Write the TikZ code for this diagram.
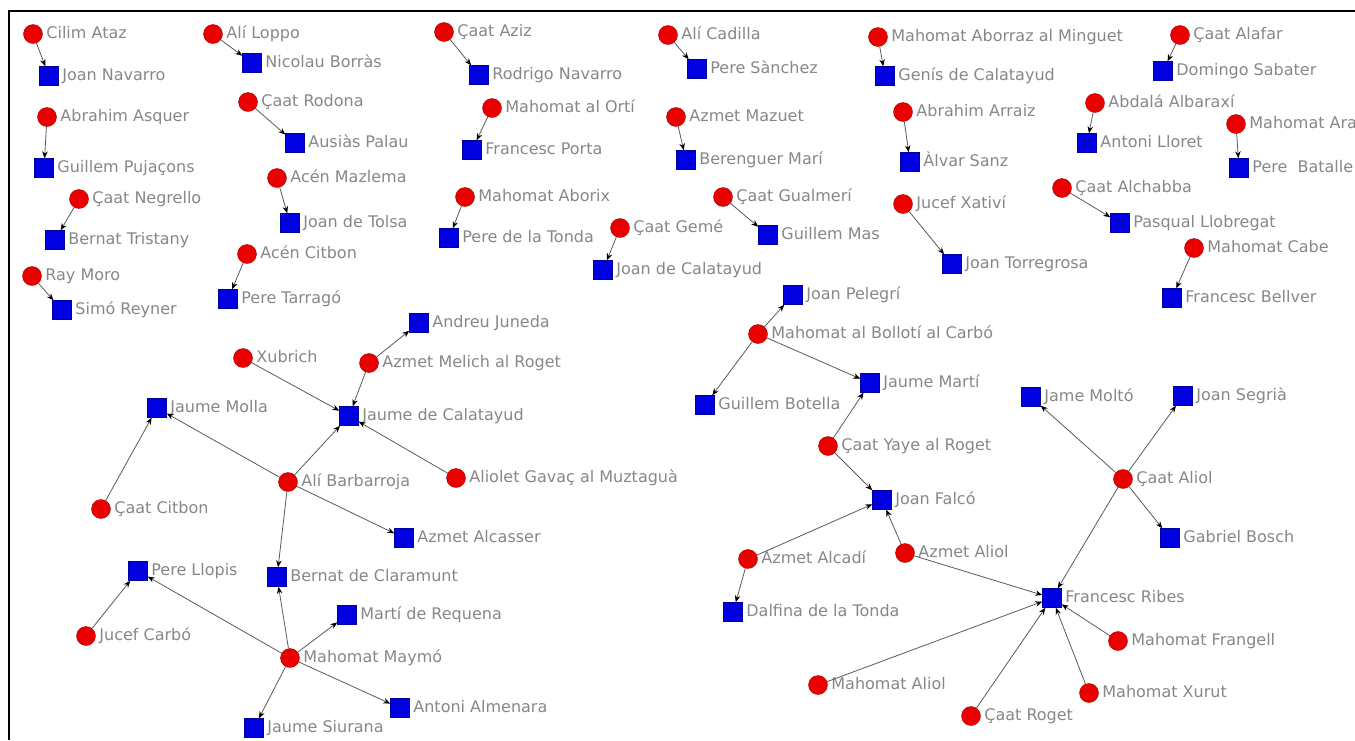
\documentclass[tikz,border=0pt]{standalone}
\usepackage{fontspec}
\setmainfont{DejaVu Sans}
\usetikzlibrary{arrows.meta}

\definecolor{namegray}{RGB}{135,135,135}
\definecolor{dotred}{RGB}{235,0,0}
\definecolor{boxblue}{RGB}{0,0,225}
\definecolor{linkgray}{RGB}{90,90,90}

\begin{document}
\begin{tikzpicture}[x=1pt,y=-1pt]
\useasboundingbox (0,0) rectangle (1355,740);
\clip (0,0) rectangle (1355,740);
\draw[line width=2pt] (8.5,740) -- (8.5,10.5) -- (1355,10.5);

\begin{scope}[
    dot/.style={circle,draw=dotred!70!black,fill=dotred,inner sep=0pt,minimum size=19pt},
    box/.style={rectangle,draw=boxblue!70!black,fill=boxblue,inner sep=0pt,minimum size=19pt},
    label distance=2.5pt,
    every label/.append style={text=namegray,font=\fontsize{16}{18}\selectfont,
        inner sep=1pt,text height=12pt,text depth=3.5pt}]
    % pairs, top rows
    \node (1) at (33, 34) [dot,label=right:Cilim Ataz] {};
    \node (2) at (49, 76) [box,label=right:Joan Navarro] {};
    \node (3) at (47, 117) [dot,label=right:Abrahim Asquer] {};
    \node (4) at (44, 168) [box,label=right:Guillem Pujaçons] {};
    \node (5) at (79, 199) [dot,label=right:Çaat Negrello] {};
    \node (6) at (55, 240) [box,label=right:Bernat Tristany] {};
    \node (7) at (32, 276) [dot,label=right:Ray Moro] {};
    \node (8) at (62, 310) [box,label=right:Simó Reyner] {};

    \node (9) at (213, 34) [dot,label=right:Alí Loppo] {};
    \node (10) at (252, 63) [box,label=right:Nicolau Borràs] {};
    \node (11) at (248, 102) [dot,label=right:Çaat Rodona] {};
    \node (12) at (295, 143) [box,label=right:Ausiàs Palau] {};
    \node (13) at (277, 178) [dot,label=right:Acén Mazlema] {};
    \node (14) at (290, 223) [box,label=right:Joan de Tolsa] {};
    \node (15) at (247, 254) [dot,label=right:Acén Citbon] {};
    \node (16) at (228, 299) [box,label=right:Pere Tarragó] {};

    \node (17) at (444, 32) [dot,label=right:Çaat Aziz] {};
    \node (18) at (479, 75) [box,label=right:Rodrigo Navarro] {};
    \node (19) at (492, 108) [dot,label=right:Mahomat al Ortí] {};
    \node (20) at (472, 150) [box,label=right:Francesc Porta] {};
    \node (21) at (465, 197) [dot,label=right:Mahomat Aborix] {};
    \node (22) at (449, 238) [box,label=right:Pere de la Tonda] {};
    \node (23) at (620, 228) [dot,label=right:Çaat Gemé] {};
    \node (24) at (603, 270) [box,label=right:Joan de Calatayud] {};

    \node (25) at (668, 35) [dot,label=right:Alí Cadilla] {};
    \node (26) at (697, 69) [box,label=right:Pere Sànchez] {};
    \node (27) at (676, 117) [dot,label=right:Azmet Mazuet] {};
    \node (28) at (686, 160) [box,label=right:Berenguer Marí] {};
    \node (29) at (723, 197) [dot,label=right:Çaat Gualmerí] {};
    \node (30) at (768, 235) [box,label=right:Guillem Mas] {};

    \node (31) at (878, 37) [dot,label=right:Mahomat Aborraz al Minguet] {};
    \node (32) at (885, 76) [box,label=right:Genís de Calatayud] {};
    \node (33) at (903, 112) [dot,label=right:Abrahim Arraiz] {};
    \node (34) at (910, 162) [box,label=right:Àlvar Sanz] {};
    \node (35) at (903, 204) [dot,label=right:Jucef Xativí] {};
    \node (36) at (952, 264) [box,label=right:Joan Torregrosa] {};

    \node (37) at (1180, 35) [dot,label=right:Çaat Alafar] {};
    \node (38) at (1163, 71) [box,label=right:Domingo Sabater] {};
    \node (39) at (1095, 103) [dot,label=right:Abdalá Albaraxí] {};
    \node (40) at (1087, 143) [box,label=right:Antoni Lloret] {};
    \node (41) at (1236, 124) [dot,label=right:Mahomat Ara] {};
    \node (42) at (1239, 168) [box,label=right:Pere~ Batalle] {};
    \node (43) at (1062, 188) [dot,label=right:Çaat Alchabba] {};
    \node (44) at (1120, 223) [box,label=right:Pasqual Llobregat] {};
    \node (45) at (1194, 248) [dot,label=right:Mahomat Cabe] {};
    \node (46) at (1172, 298) [box,label=right:Francesc Bellver] {};

    % left cluster
    \node (47) at (419, 323) [box,label=right:Andreu Juneda] {};
    \node (48) at (243, 358) [dot,label=right:Xubrich] {};
    \node (49) at (369, 363) [dot,label=right:Azmet Melich al Roget] {};
    \node (50) at (157, 408) [box,label=right:Jaume Molla] {};
    \node (51) at (349, 416) [box,label=right:Jaume de Calatayud] {};
    \node (52) at (288, 482) [dot,label=right:Alí Barbarroja] {};
    \node (53) at (456, 478) [dot,label=right:Aliolet Gavaç al Muztaguà] {};
    \node (54) at (101, 509) [dot,label=right:Çaat Citbon] {};
    \node (55) at (404, 538) [box,label=right:Azmet Alcasser] {};
    \node (56) at (138, 571) [box,label=right:Pere Llopis] {};
    \node (57) at (277, 577) [box,label=right:Bernat de Claramunt] {};
    \node (58) at (347, 615) [box,label=right:Martí de Requena] {};
    \node (59) at (86, 636) [dot,label=right:Jucef Carbó] {};
    \node (60) at (290, 658) [dot,label=right:Mahomat Maymó] {};
    \node (61) at (400, 708) [box,label=right:Antoni Almenara] {};
    \node (62) at (254, 728) [box,label=right:Jaume Siurana] {};

    % right cluster
    \node (63) at (793, 295) [box,label=right:Joan Pelegrí] {};
    \node (64) at (758, 334) [dot,label=right:Mahomat al Bollotí al Carbó] {};
    \node (65) at (705, 405) [box,label=right:Guillem Botella] {};
    \node (66) at (870, 383) [box,label=right:Jaume Martí] {};
    \node (67) at (828, 446) [dot,label=right:Çaat Yaye al Roget] {};
    \node (68) at (882, 500) [box,label=right:Joan Falcó] {};
    \node (69) at (748, 559) [dot,label=right:Azmet Alcadí] {};
    \node (70) at (733, 612) [box,label=right:Dalfina de la Tonda] {};
    \node (71) at (905, 553) [dot,label=right:Azmet Aliol] {};
    \node (72) at (1052, 598) [box,label=right:Francesc Ribes] {};
    \node (73) at (818, 685) [dot,label=right:Mahomat Aliol] {};
    \node (74) at (971, 716) [dot,label=right:Çaat Roget] {};
    \node (75) at (1089, 693) [dot,label=right:Mahomat Xurut] {};
    \node (76) at (1118, 641) [dot,label=right:Mahomat Frangell] {};
    \node (77) at (1123, 479) [dot,label=right:Çaat Aliol] {};
    \node (78) at (1031, 397) [box,label=right:Jame Moltó] {};
    \node (79) at (1183, 396) [box,label=right:Joan Segrià] {};
    \node (80) at (1170, 538) [box,label=right:Gabriel Bosch] {};
\end{scope}

\begin{scope}[>={Stealth[black,length=7pt,width=5.5pt]},
              every edge/.style={draw=linkgray,line width=0.8pt}]
    \foreach \a/\b in {1/2,3/4,5/6,7/8,9/10,11/12,13/14,15/16,17/18,19/20,
                       21/22,23/24,25/26,27/28,29/30,31/32,33/34,35/36,37/38,
                       39/40,41/42,43/44,45/46}
        \path [->] (\a) edge (\b);

    \path [->] (49) edge (47);
    \path [->] (48) edge (51);
    \path [->] (49) edge (51);
    \path [->] (53) edge (51);
    \path [->] (52) edge (51);
    \path [->] (52) edge (50);
    \path [->] (54) edge (50);
    \path [->] (52) edge (55);
    \path [->] (52) edge (57);
    \path [->] (60) edge (57);
    \path [->] (60) edge (56);
    \path [->] (59) edge (56);
    \path [->] (60) edge (58);
    \path [->] (60) edge (61);
    \path [->] (60) edge (62);

    \path [->] (64) edge (63);
    \path [->] (64) edge (65);
    \path [->] (64) edge (66);
    \path [->] (67) edge (66);
    \path [->] (67) edge (68);
    \path [->] (69) edge (68);
    \path [->] (69) edge (70);
    \path [->] (71) edge (68);
    \path [->] (71) edge (72);
    \path [->] (73) edge (72);
    \path [->] (74) edge (72);
    \path [->] (75) edge (72);
    \path [->] (76) edge (72);
    \path [->] (77) edge (72);
    \path [->] (77) edge (78);
    \path [->] (77) edge (79);
    \path [->] (77) edge (80);
\end{scope}
\end{tikzpicture}
\end{document}
